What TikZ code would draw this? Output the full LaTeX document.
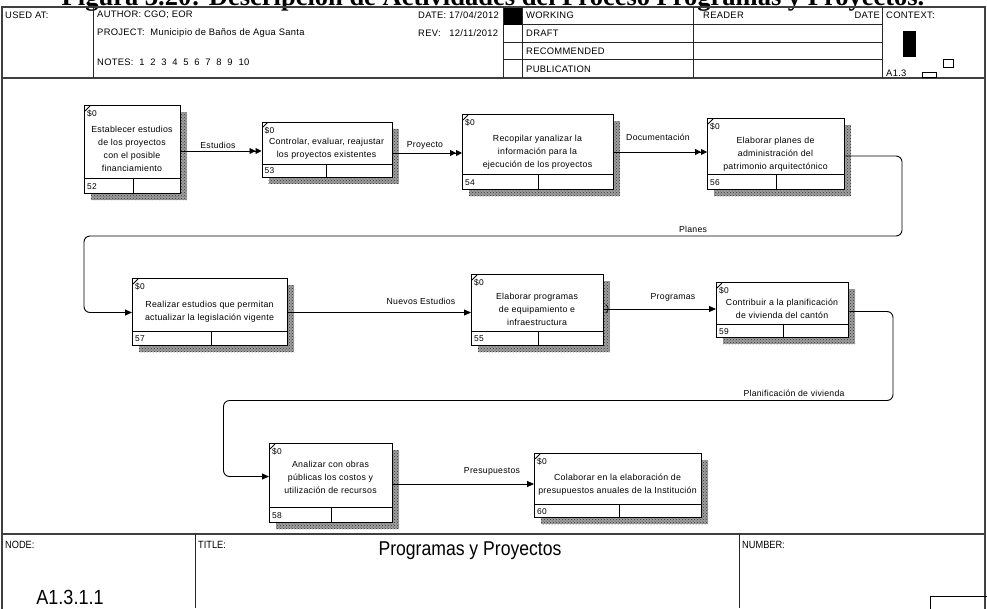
\documentclass[tikz,border=0pt]{standalone}
\usepackage{fontspec}
\setmainfont{Liberation Sans}
\newfontfamily\capfont{Liberation Serif}
\newfontfamily\narrowfont[FakeStretch=0.88]{Liberation Sans}
\newfontfamily\boxfont[LetterSpace=3]{Liberation Sans}
\usetikzlibrary{arrows.meta,patterns}

\tikzset{
  frameline/.style={line width=1.4pt, draw=black!75},
  rule/.style={line width=0.8pt, draw=black!85},
  hdr/.style={anchor=west, inner sep=0, font=\boxfont\fontsize{9.4}{10}\selectfont},
  foot/.style={anchor=west, inner sep=0, font=\narrowfont\fontsize{10.5}{11}\selectfont},
  actbox/.style={draw, line width=1.3pt, fill=white, rectangle, inner sep=0, anchor=north west},
  shadowbox/.style={preaction={fill=black!38}, pattern=crosshatch dots, pattern color=black!80},
  boxtext/.style={align=center, inner sep=0, font=\boxfont\fontsize{8.8}{13}\selectfont},
  cost/.style={anchor=west, inner sep=0, font=\boxfont\fontsize{8.4}{10}\selectfont},
  flow/.style={line width=0.9pt, -{Triangle[length=7pt,width=6pt]}},
  dflow/.style={line width=0.9pt, -{Triangle[length=6pt,width=6pt]Triangle[length=6pt,width=6pt]}},
  lbl/.style={inner sep=0, font=\boxfont\fontsize{8.7}{10}\selectfont},
}

% activity box: #1 name, #2 left, #3 top, #4 width, #5 height,
% #6 height of the bottom cell row, #7 width of the number cell, #8 number
\newcommand\actbox[8]{%
  \fill[shadowbox] (#2+7,#3+7) rectangle ++(#4,#5);
  \node[actbox, minimum width=#4pt, minimum height=#5pt] (#1) at (#2,#3) {};
  \draw[line width=1pt] ([yshift=#6pt]#1.south west) -- ([yshift=#6pt]#1.south east);
  \draw[line width=1pt] ([xshift=#7pt]#1.south west) -- ([xshift=#7pt,yshift=#6pt]#1.south west);
  \draw[line width=0.8pt] ([xshift=1pt,yshift=-6pt]#1.north west) -- ([xshift=6pt,yshift=-1pt]#1.north west);
  \node[cost] (#1c) at ([xshift=3pt,yshift=-9pt]#1.north west) {\$0};
  \node[cost] (#1n) at ([xshift=3pt,yshift=#6pt*0.5]#1.south west) {#8};
}

\begin{document}
\begin{tikzpicture}[x=1pt, y=-1pt]
\useasboundingbox (0,0) rectangle (987,608);

% caption line above the form
\node[anchor=base, inner sep=0, font=\capfont\bfseries\fontsize{26.5}{27}\selectfont] (caption) at (493,5)
  {Figura 3.20: Descripción de Actividades del Proceso Programas y Proyectos.};

% ---------- form frame ----------
\draw[frameline] (2,7) rectangle (985,640);
\draw[frameline] (2,78) -- (985,78);
\draw[frameline] (2,534) -- (985,534);

% header grid
\draw[rule] (93,7) -- (93,78);
\draw[rule] (503,7) -- (503,78);
\draw[rule] (522,7) -- (522,78);
\draw[rule] (693,7) -- (693,78);
\draw[rule] (882,7) -- (882,78);
\foreach \yy in {24.5,42,59.5} \draw[rule] (503,\yy) -- (882,\yy);
\fill (503.5,7.5) rectangle (521.5,24.5);

\node[hdr] (usedat) at (5,15) {USED AT:};
\node[hdr] (author) at (97,15) {AUTHOR: CGO; EOR};
\node[hdr] (project) at (97,33.5) {PROJECT:\ \ Municipio de Baños de Agua Santa};
\node[hdr] (notes) at (97,62.5) {NOTES:\ \ 1\ \ 2\ \ 3\ \ 4\ \ 5\ \ 6\ \ 7\ \ 8\ \ 9\ \ 10};
\node[hdr] (date) at (418,15) {DATE: 17/04/2012};
\node[hdr] (rev) at (418,33.5) {REV:\ \ \ 12/11/2012};
\node[hdr] (working) at (526,15.5) {WORKING};
\node[hdr] (draft) at (526,33.5) {DRAFT};
\node[hdr] (recom) at (526,51) {RECOMMENDED};
\node[hdr] (public) at (526,69) {PUBLICATION};
\node[hdr] (reader) at (703,15.5) {READER};
\node[hdr, anchor=east] (rdate) at (880,15.5) {DATE};
\node[hdr] (context) at (886,15.5) {CONTEXT:};
\node[hdr] (ctxnode) at (886,73) {A1.3};
\fill (903,31) rectangle (916,57);
\draw[line width=0.7pt] (943,59) rectangle (953,67);
\draw[line width=0.7pt] (922,72.5) rectangle (936,77);

% footer
\draw[rule] (195,534) -- (195,608);
\draw[rule] (739,534) -- (739,608);
\node[foot] (nodelbl) at (5,545) {NODE:};
\node[foot] (titlelbl) at (198,545) {TITLE:};
\node[foot] (numlbl) at (742,545) {NUMBER:};
\node[inner sep=0, font=\narrowfont\fontsize{20}{22}\selectfont] (dtitle) at (470,550.5) {Programas y Proyectos};
\node[inner sep=0, font=\narrowfont\fontsize{20.5}{22}\selectfont] (dnode) at (70,597) {A1.3.1.1};
\draw[line width=0.8pt] (930,596) rectangle (990,615);

% ---------- activity boxes ----------
\actbox{b52}{84}{105}{96}{88}{16}{49}{52}
\actbox{b53}{261.5}{121.5}{130}{55}{13.5}{65}{53}
\actbox{b54}{462}{114}{151}{75}{16}{76}{54}
\actbox{b56}{707}{118}{137}{71}{16}{69}{56}
\actbox{b57}{132}{278}{155}{67}{15}{79}{57}
\actbox{b55}{471}{274}{132}{71}{15}{67}{55}
\actbox{b59}{716}{282}{132}{55}{14}{67}{59}
\actbox{b58}{269}{443}{123}{79}{15.5}{62}{58}
\actbox{b60}{534}{453}{167}{64}{14}{85}{60}

\node[boxtext] (t52) at (132,148.5) {Establecer estudios\\de los proyectos\\con el posible\\financiamiento};
\node[boxtext] (t53) at (326.5,148.5) {Controlar, evaluar, reajustar\\los proyectos existentes};
\node[boxtext] (t54) at (537.5,152) {Recopilar yanalizar la\\información para la\\ejecución de los proyectos};
\node[boxtext] (t56) at (775.5,154.5) {Elaborar planes de\\administración del\\patrimonio arquitectónico};
\node[boxtext] (t57) at (209.5,311.5) {Realizar estudios que permitan\\actualizar la legislación vigente};
\node[boxtext] (t55) at (537,309) {Elaborar programas\\de equipamiento e\\infraestructura};
\node[boxtext] (t59) at (782,308.5) {Contribuir a la planificación\\de vivienda del cantón};
\node[boxtext] (t58) at (330.5,477.5) {Analizar con obras\\públicas los costos y\\utilización de recursos};
\node[boxtext] (t60) at (617.5,485) {Colaborar en la elaboración de\\presupuestos anuales de la Institución};

% ---------- connectors ----------
\draw[dflow] (b52.east |- 0,151) -- (b53.west |- 0,151);
\draw[dflow] (b53.east |- 0,153) -- (b54.west |- 0,153);
\draw[dflow] (b54.east |- 0,152) -- (b56.west |- 0,152);
\draw[flow, rounded corners=6pt] (b56.east |- 0,156) -- (902,156) -- (902,236) -- (84,236)
  -- (84,312.5) -- (b57.west |- 0,312.5);
\draw[flow] (b57.east |- 0,312.5) -- (b55.west |- 0,312.5);
\draw[flow] (b55.east |- 0,309) -- (b59.west |- 0,309);
\draw[line width=0.7pt] (605.5,304.5) .. controls (609,306.5) and (609,311) .. (605.5,313);
\draw[flow, rounded corners=6pt] (b59.east |- 0,311.5) -- (893,311.5) -- (893,400.5) -- (223.5,400.5)
  -- (223.5,476.5) -- (b58.west |- 0,476.5);
\draw[flow] (b58.east |- 0,484) -- (b60.west |- 0,484);

\node[lbl] (l1) at (218,145) {Estudios};
\node[lbl] (l2) at (425,145) {Proyecto};
\node[lbl] (l3) at (658,137.5) {Documentación};
\node[lbl] (l4) at (693,229) {Planes};
\node[lbl] (l5) at (421,301) {Nuevos Estudios};
\node[lbl] (l6) at (673,297.5) {Programas};
\node[lbl] (l7) at (794,393.5) {Planificación de vivienda};
\node[lbl] (l8) at (492,471) {Presupuestos};
\end{tikzpicture}
\end{document}
